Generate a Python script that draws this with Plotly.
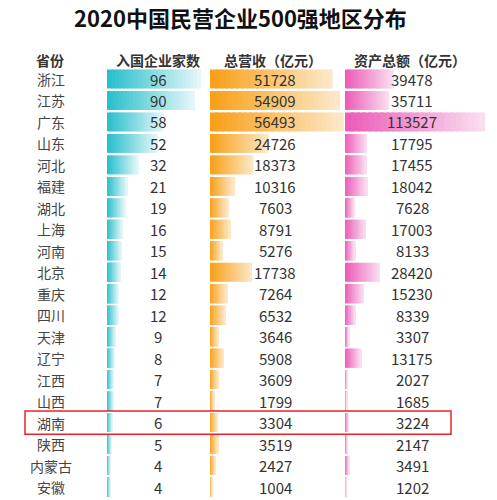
import plotly.graph_objects as go

title = "2020中国民营企业500强地区分布"
headers = ["省份", "入国企业家数", "总营收（亿元）", "资产总额（亿元）"]
provinces = ["浙江", "江苏", "广东", "山东", "河北", "福建", "湖北", "上海", "河南", "北京",
             "重庆", "四川", "天津", "辽宁", "江西", "山西", "湖南", "陕西", "内蒙古", "安徽"]
counts = [96, 90, 58, 52, 32, 21, 19, 16, 15, 14, 12, 12, 9, 8, 7, 7, 6, 5, 4, 4]
revenue = [51728, 54909, 56493, 24726, 18373, 10316, 7603, 8791, 5276, 17738,
           7264, 6532, 3646, 5908, 3609, 1799, 3304, 3519, 2427, 1004]
assets = [39478, 35711, 113527, 17795, 17455, 18042, 7628, 17003, 8133, 28420,
          15230, 8339, 3307, 13175, 2027, 1685, 3224, 2147, 3491, 1202]
highlight = "湖南"

W, H = 497, 500
FONT = "Noto Sans CJK SC"

columns = [
    # values, axis, start color, end color, domain px, range max, text center px
    (counts, "x", (40, 192, 205), (228, 246, 248), (107, 205), 100, 158),
    (revenue, "x2", (248, 160, 24), (252, 232, 200), (210, 345), 57000, 275),
    (assets, "x3", (236, 92, 184), (249, 222, 239), (345, 487), 115000, 412),
]

N = 24
fig = go.Figure()
for vals, ax, c0, c1, dom, rmax, tc in columns:
    for k in range(N):
        t = k / (N - 1)
        col = tuple(round(c0[j] + (c1[j] - c0[j]) * t) for j in range(3))
        ext = 1.0 if k == N - 1 else 1.6
        fig.add_trace(go.Bar(
            y=provinces,
            x=[v / N * ext for v in vals],
            base=[v * k / N for v in vals],
            orientation="h",
            xaxis=ax, yaxis="y",
            marker=dict(color="rgb(%d,%d,%d)" % col, line=dict(width=0)),
            width=0.88,
            hoverinfo="skip",
            showlegend=False,
        ))

# y geometry: row centers from px 79 to px 487
span = 19 / (408 / H)
y_top = -79 / H * span
y_bot = y_top + span

annotations = []
annotations.append(dict(text="<b>%s</b>" % title, x=240 / W, y=1 - 17 / H, xref="paper", yref="paper",
                        showarrow=False, font=dict(family=FONT, size=22, color="#111111"),
                        xanchor="center", yanchor="middle"))
hdr_x = [50, 158, 273, 410]
for h, hx in zip(headers, hdr_x):
    annotations.append(dict(text="<b>%s</b>" % h, x=hx / W, y=1 - 60 / H, xref="paper", yref="paper",
                            showarrow=False, font=dict(family=FONT, size=14, color="#333333"),
                            xanchor="center", yanchor="middle"))
for p in provinces:
    annotations.append(dict(text=p, x=51 / W, y=p, xref="paper", yref="y", showarrow=False,
                            font=dict(family=FONT, size=14, color="#444444"),
                            xanchor="center", yanchor="middle"))
for vals, ax, c0, c1, dom, rmax, tc in columns:
    for p, v in zip(provinces, vals):
        annotations.append(dict(text=str(v), x=tc / W, y=p, xref="paper", yref="y", showarrow=False,
                                font=dict(family=FONT, size=15, color="#333333"),
                                xanchor="center", yanchor="middle"))

hi = provinces.index(highlight)
shapes = [dict(type="rect", xref="paper", yref="y", x0=25 / W, x1=451 / W,
               y0=hi - 0.54, y1=hi + 0.54, line=dict(color="#E8232B", width=1.5),
               fillcolor="rgba(0,0,0,0)")]

axis_common = dict(showgrid=False, zeroline=False, showticklabels=False, showline=False, fixedrange=True)
layout = dict(
    width=W, height=H,
    margin=dict(l=0, r=0, t=0, b=0),
    paper_bgcolor="white", plot_bgcolor="white",
    barmode="overlay",
    yaxis=dict(type="category", categoryorder="array", categoryarray=provinces,
               range=[y_bot, y_top], domain=[0, 1], **axis_common),
    annotations=annotations,
    shapes=shapes,
    showlegend=False,
)
for vals, ax, c0, c1, dom, rmax, tc in columns:
    key = "xaxis" if ax == "x" else "xaxis" + ax[1:]
    layout[key] = dict(domain=[dom[0] / W, dom[1] / W], range=[0, rmax], anchor="y", **axis_common)

fig.update_layout(**layout)
fig.write_html("out.html", config={"displayModeBar": False},
               post_script="document.body.style.margin='0';document.body.style.overflow='hidden';")
